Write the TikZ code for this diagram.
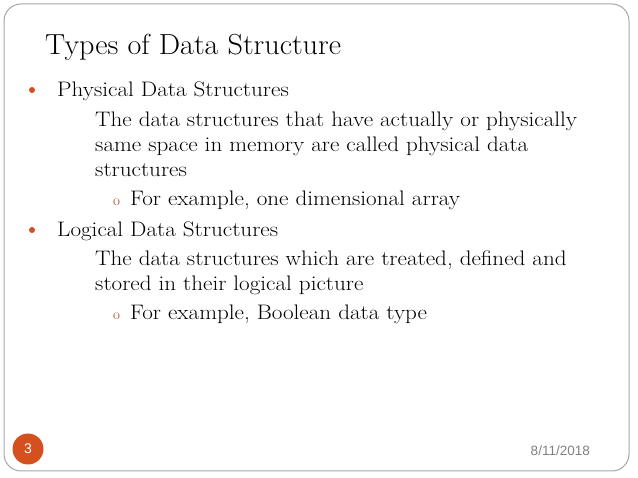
\documentclass[tikz,border=0pt]{standalone}
\usepackage{fontspec}
\newfontfamily\datefont{Liberation Sans}
\definecolor{accent}{HTML}{D5501F}
\begin{document}
\begin{tikzpicture}[x=1pt,y=-1pt,
  txt/.style={anchor=base west,inner sep=0pt,font=\fontsize{21}{24}\selectfont,xscale=1.1},
  bul/.style={circle,fill=accent,inner sep=0pt,minimum size=6pt},
  sub/.style={anchor=base west,inner sep=0pt,font=\fontsize{15}{16}\selectfont,text=accent!80!black}]
\useasboundingbox (0,0) rectangle (638,478);
\draw[gray!70,line width=1pt,rounded corners=17pt] (4,4) rectangle (629,471);
\node[anchor=base west,inner sep=0pt,font=\fontsize{29}{32}\selectfont,xscale=1.04] (title) at (45,55) {Types of Data Structure};
\node[bul] (b1) at (32,90) {};
\node[txt] (p1) at (57,97) {Physical Data Structures};
\node[txt] (p2) at (95,127) {The data structures that have actually or physically};
\node[txt] (p3) at (95,152) {same space in memory are called physical data};
\node[txt] (p4) at (95,177) {structures};
\node[sub] (o1) at (113,206) {o};
\node[txt] (p5) at (130,206) {For example, one dimensional array};
\node[bul] (b2) at (32,230) {};
\node[txt] (l1) at (57,237) {Logical Data Structures};
\node[txt] (l2) at (95,266) {The data structures which are treated, defined and};
\node[txt] (l3) at (95,291) {stored in their logical picture};
\node[sub] (o2) at (113,320) {o};
\node[txt] (l4) at (130,320) {For example, Boolean data type};
\node[circle,fill=accent,minimum size=31pt,inner sep=0pt,text=white,font=\datefont\fontsize{14}{16}\selectfont] (pg) at (28,449) {3};
\node[anchor=base east,inner sep=0pt,text=gray,font=\datefont\fontsize{13.5}{16}\selectfont] (date) at (590,456) {8/11/2018};
\end{tikzpicture}
\end{document}
